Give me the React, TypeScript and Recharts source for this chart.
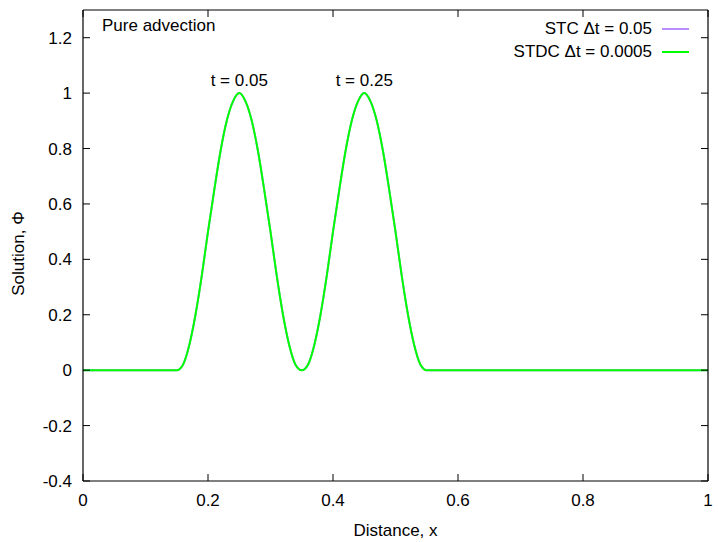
import React from 'react';
import { LineChart, Line, XAxis, YAxis, Legend, ReferenceDot } from 'recharts';

// sample positions along x
const xPos = [
  0, 0.1, 0.14, 0.15, 0.16, 0.17, 0.18, 0.19, 0.2, 0.21, 0.22, 0.23, 0.24, 0.25, 0.26, 0.27, 0.28, 0.29, 0.3,
  0.31, 0.32, 0.33, 0.34, 0.35, 0.36, 0.37, 0.38, 0.39, 0.4, 0.41, 0.42, 0.43, 0.44, 0.45, 0.46, 0.47, 0.48,
  0.49, 0.5, 0.51, 0.52, 0.53, 0.54, 0.55, 0.56, 0.6, 0.8, 1,
];
const phiStc = [
  0, 0, 0, 0, 0.02, 0.09, 0.2, 0.34, 0.5, 0.65, 0.79, 0.9, 0.97, 1, 0.97, 0.9, 0.79, 0.65, 0.5,
  0.34, 0.2, 0.09, 0.02, 0, 0.02, 0.09, 0.2, 0.34, 0.5, 0.65, 0.79, 0.9, 0.97, 1, 0.97, 0.9, 0.79,
  0.65, 0.5, 0.34, 0.2, 0.09, 0.02, 0, 0, 0, 0, 0,
];
const phiStdc = [
  0, 0, 0, 0, 0.02, 0.09, 0.2, 0.34, 0.5, 0.65, 0.79, 0.9, 0.97, 1, 0.97, 0.9, 0.79, 0.65, 0.5,
  0.34, 0.2, 0.09, 0.02, 0, 0.02, 0.09, 0.2, 0.34, 0.5, 0.65, 0.79, 0.9, 0.97, 1, 0.97, 0.9, 0.79,
  0.65, 0.5, 0.34, 0.2, 0.09, 0.02, 0, 0, 0, 0, 0,
];
const xTicks = [0, 0.2, 0.4, 0.6, 0.8, 1];
const yTicks = [-0.4, -0.2, 0, 0.2, 0.4, 0.6, 0.8, 1, 1.2];
const peaks = [
  { x: 0.25, y: 1, label: 't = 0.05' },
  { x: 0.45, y: 1, label: 't = 0.25' },
];

const data = xPos.map((x, i) => ({ x, stc: phiStc[i], stdc: phiStdc[i] }));

const FONT = '"Liberation Sans", Arial, sans-serif';
const FS = 17;
const TICK = 7;

const fmt = (v: number) => String(Math.round(v * 10) / 10);

const BottomTick = (p: any) => (
  <g>
    <line x1={p.x} y1={p.y} x2={p.x} y2={p.y - TICK} stroke="#000" strokeWidth={1} />
    <text x={p.x} y={p.y + 25} textAnchor="middle" fontSize={FS} fontFamily={FONT} fill="#000">
      {fmt(p.payload.value)}
    </text>
  </g>
);
const TopTick = (p: any) => (
  <line x1={p.x} y1={p.y} x2={p.x} y2={p.y + TICK} stroke="#000" strokeWidth={1} />
);
const LeftTick = (p: any) => (
  <g>
    <line x1={p.x} y1={p.y} x2={p.x + TICK} y2={p.y} stroke="#000" strokeWidth={1} />
    <text x={p.x - 11} y={p.y + 6} textAnchor="end" fontSize={FS} fontFamily={FONT} fill="#000">
      {fmt(p.payload.value)}
    </text>
  </g>
);
const RightTick = (p: any) => (
  <line x1={p.x} y1={p.y} x2={p.x - TICK} y2={p.y} stroke="#000" strokeWidth={1} />
);

const LegendBox = (props: any) => (
  <div style={{ fontFamily: FONT, fontSize: FS, color: '#000' }}>
    {(props.payload || [])
      .filter((e: any) => e.type !== 'none')
      .map((e: any) => (
        <div key={e.value} style={{ display: 'flex', alignItems: 'center', justifyContent: 'flex-end', height: 23 }}>
          <span>{e.value}</span>
          <span style={{ display: 'inline-block', width: 27, height: 2, background: e.color, marginLeft: 10 }} />
        </div>
      ))}
  </div>
);

export default function App() {
  return (
    <div style={{ position: 'absolute', left: 0, top: 0, background: '#fff' }}>
      <LineChart width={718} height={542} data={data} margin={{ top: 9, right: 9, left: 0, bottom: 0 }}>
        <XAxis
          dataKey="x"
          type="number"
          domain={[0, 1]}
          ticks={xTicks}
          height={61}
          tickSize={0}
          tickMargin={0}
          tickLine={false}
          tick={BottomTick}
          axisLine={{ stroke: '#000', strokeWidth: 1.2 }}
          label={{ value: 'Distance, x', position: 'insideBottom', offset: 6, fontSize: FS, fontFamily: FONT, fill: '#000' }}
        />
        <XAxis
          xAxisId="top"
          orientation="top"
          dataKey="x"
          type="number"
          domain={[0, 1]}
          ticks={xTicks}
          height={1}
          allowDataOverflow
          tickSize={0}
          tickMargin={0}
          tickLine={false}
          tick={TopTick}
          axisLine={{ stroke: '#000', strokeWidth: 1.2 }}
        />
        <YAxis
          type="number"
          domain={[-0.4, 1.3]}
          ticks={yTicks}
          width={83}
          allowDataOverflow
          tickSize={0}
          tickMargin={0}
          tickLine={false}
          tick={LeftTick}
          axisLine={{ stroke: '#000', strokeWidth: 1.2 }}
          label={(lp: any) => {
            const vb = lp.viewBox || { y: 10, height: 471 };
            const cy = vb.y + vb.height / 2 + 8;
            return (
              <text x={24} y={cy} transform={`rotate(-90 24 ${cy})`} textAnchor="middle" fontSize={FS} fontFamily={FONT} fill="#000">
                Solution, Φ
              </text>
            );
          }}
        />
        <YAxis
          yAxisId="right"
          orientation="right"
          type="number"
          domain={[-0.4, 1.3]}
          ticks={yTicks}
          width={1}
          allowDataOverflow
          tickSize={0}
          tickMargin={0}
          tickLine={false}
          tick={RightTick}
          axisLine={{ stroke: '#000', strokeWidth: 1.2 }}
        />
        <Legend
          layout="horizontal"
          verticalAlign="middle"
          align="center"
          content={LegendBox}
          wrapperStyle={{ position: 'absolute', top: 17, right: 29, left: 'auto', bottom: 'auto', width: 'auto' }}
        />
        <ReferenceDot
          x={0}
          y={1.3}
          r={0}
          ifOverflow="visible"
          label={(lp: any) => (
            <text x={(lp.viewBox?.x ?? 83) + 19} y={(lp.viewBox?.y ?? 10) + 21} fontSize={FS} fontFamily={FONT} fill="#000">
              Pure advection
            </text>
          )}
        />
        {peaks.map((p) => (
          <ReferenceDot
            key={p.label}
            x={p.x}
            y={p.y}
            r={0}
            ifOverflow="visible"
            label={{ value: p.label, position: 'top', offset: 7, fontSize: FS, fontFamily: FONT, fill: '#000' }}
          />
        ))}
        {/* invisible series that binds the mirrored top/right axes */}
        <Line
          xAxisId="top"
          yAxisId="right"
          dataKey="stdc"
          stroke="none"
          dot={false}
          legendType="none"
          activeDot={false}
          isAnimationActive={false}
        />
        <Line
          type="monotone"
          dataKey="stc"
          name="STC Δt = 0.05"
          stroke="#b98cff"
          strokeWidth={2}
          dot={false}
          isAnimationActive={false}
        />
        <Line
          type="monotone"
          dataKey="stdc"
          name="STDC Δt = 0.0005"
          stroke="#00ff00"
          strokeWidth={2}
          dot={false}
          isAnimationActive={false}
        />
      </LineChart>
    </div>
  );
}
